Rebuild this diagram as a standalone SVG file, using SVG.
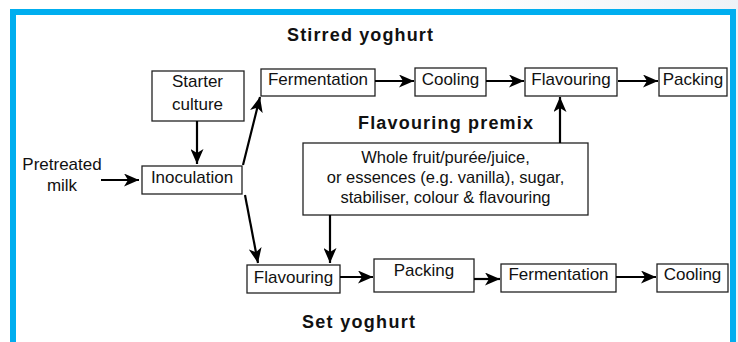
<svg xmlns="http://www.w3.org/2000/svg" width="738" height="342" viewBox="0 0 738 342">
<defs>
<linearGradient id="bg" x1="0" y1="0" x2="1" y2="0">
<stop offset="0" stop-color="#ffffff"/>
<stop offset="0.6" stop-color="#ffffff"/>
<stop offset="1" stop-color="#eef2f6"/>
</linearGradient>
<marker id="ah" markerUnits="userSpaceOnUse" markerWidth="17" markerHeight="13" refX="15" refY="6.5" orient="auto">
<path d="M0,0 L15,6.5 L0,13 L4,6.5 Z" fill="#000"/>
</marker>
</defs>
<style>
.box{fill:#fff;stroke:#222;stroke-width:1.3}
.lbl{font-family:"Liberation Sans",Arial,sans-serif;font-size:17px;fill:#111;text-anchor:middle}
.pm{font-family:"Liberation Sans",Arial,sans-serif;font-size:16.5px;fill:#111;text-anchor:middle}
.ttl{font-family:"Liberation Sans",Arial,sans-serif;font-size:18px;font-weight:bold;fill:#111}
.conn line{stroke:#000;stroke-width:2.2;marker-end:url(#ah)}
</style>
<rect x="0" y="0" width="738" height="342" fill="url(#bg)"/>
<rect x="13" y="12" width="720" height="340" fill="#fff"/>
<path d="M13,345 V12 H733 V345" fill="none" stroke="#00AEEF" stroke-width="6"/>

<text class="ttl" x="287" y="41" textLength="146">Stirred yoghurt</text>
<text class="ttl" x="358" y="129" textLength="175">Flavouring premix</text>
<text class="ttl" x="302" y="328" textLength="113">Set yoghurt</text>

<g id="pretreated">
<text class="lbl" x="62" y="170">Pretreated</text>
<text class="lbl" x="62" y="191">milk</text>
</g>
<g id="starter">
<rect class="box" x="152" y="71" width="92" height="50"/>
<text class="lbl" x="197.5" y="87">Starter</text>
<text class="lbl" x="197.5" y="110">culture</text>
</g>
<g id="inoculation">
<rect class="box" x="142" y="166" width="100" height="28"/>
<text class="lbl" x="192" y="183">Inoculation</text>
</g>
<g id="fermentation-top">
<rect class="box" x="261" y="69" width="114" height="27"/>
<text class="lbl" x="318" y="85">Fermentation</text>
</g>
<g id="cooling-top">
<rect class="box" x="415" y="68" width="71" height="28"/>
<text class="lbl" x="450.5" y="85">Cooling</text>
</g>
<g id="flavouring-top">
<rect class="box" x="525" y="68" width="92" height="28"/>
<text class="lbl" x="571" y="85">Flavouring</text>
</g>
<g id="packing-top">
<rect class="box" x="659" y="68" width="68" height="28"/>
<text class="lbl" x="693" y="85">Packing</text>
</g>
<g id="premix">
<rect class="box" x="303" y="143" width="285" height="72"/>
<text class="pm" x="445.5" y="162.5">Whole fruit/purée/juice,</text>
<text class="pm" x="445.5" y="182.5">or essences (e.g. vanilla), sugar,</text>
<text class="pm" x="445.5" y="202.5">stabiliser, colour &amp; flavouring</text>
</g>
<g id="flavouring-bottom">
<rect class="box" x="247" y="265" width="93" height="28"/>
<text class="lbl" x="293.5" y="282.5">Flavouring</text>
</g>
<g id="packing-bottom">
<rect class="box" x="374" y="259" width="100" height="33"/>
<text class="lbl" x="424" y="276">Packing</text>
</g>
<g id="fermentation-bottom">
<rect class="box" x="501" y="264" width="115" height="28"/>
<text class="lbl" x="558.5" y="280">Fermentation</text>
</g>
<g id="cooling-bottom">
<rect class="box" x="657" y="264" width="71" height="28"/>
<text class="lbl" x="692.5" y="280">Cooling</text>
</g>

<g id="connectors" class="conn">
<line x1="101" y1="180" x2="139" y2="180"/>
<line x1="197" y1="121" x2="197" y2="164"/>
<line x1="243" y1="165" x2="260" y2="97"/>
<line x1="245" y1="195" x2="258" y2="263"/>
<line x1="330" y1="215" x2="330" y2="263"/>
<line x1="560" y1="143" x2="560" y2="97"/>
<line x1="375" y1="81" x2="414" y2="81"/>
<line x1="486" y1="81" x2="524" y2="81"/>
<line x1="618" y1="81" x2="658" y2="81"/>
<line x1="340" y1="277" x2="373" y2="277"/>
<line x1="474" y1="279" x2="500" y2="279"/>
<line x1="616" y1="277" x2="656" y2="277"/>
</g>
</svg>
